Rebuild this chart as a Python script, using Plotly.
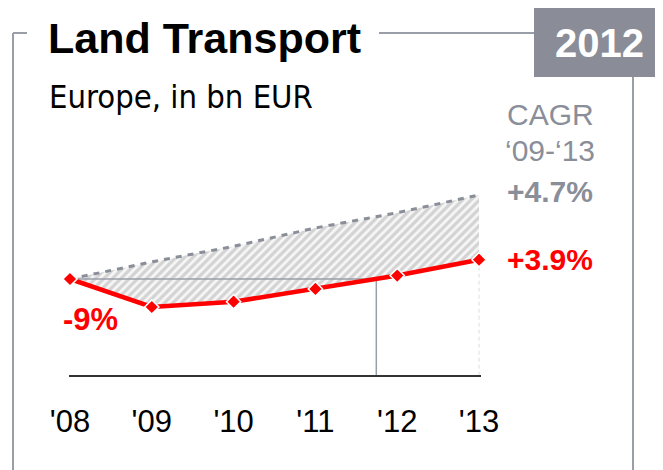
import plotly.graph_objects as go

# data (index, 2008 = 100)
years = ["'08", "'09", "'10", "'11", "'12", "'13"]
land_transport = [100, 91, 92.7, 96.8, 101.1, 106.2]
market_trend = [100, 105.5, 110.5, 116.4, 121.3, 127]

cagr_market = "+4.7%"
cagr_segment = "+3.9%"
drop_label = "-9%"
badge_year = "2012"

W, H = 663, 470
OFF = 8  # page body margin
RED = "#ff0000"
GREY = "#8a8e99"
FRAME = "#9a9ea8"
FONT = "Liberation Sans, Arial, sans-serif"
SUB_FONT = "DejaVu Sans Condensed, Liberation Sans, sans-serif"


def px(x):
    return (x - OFF) / W


def py(y):
    return 1 - (y - OFF) / H


xs = list(range(len(years)))

# where the segment gets back above the 2008 level
x_cross = None
for i in range(1, len(land_transport)):
    a, b = land_transport[i - 1], land_transport[i]
    if a < 100 <= b:
        x_cross = xs[i - 1] + (100 - a) / (b - a)
        break

# y scale: 2008 level at 279px, 3.111 px per point, baseline at 375px
y_base = 100 - (375 - 279) / 3.111
y_top = 100 + (279 - OFF) / 3.111

fig = go.Figure()

# lower edge of the hatched band
fig.add_trace(go.Scatter(x=xs, y=land_transport, mode="lines",
                         line=dict(width=0), hoverinfo="skip", cliponaxis=False))
# market trend, hatched down to the segment line
fig.add_trace(go.Scatter(
    x=xs, y=market_trend, mode="lines", fill="tonexty",
    fillpattern=dict(shape="/", fgcolor="#b0b0b0", bgcolor="#f7f7f7", size=6, solidity=0.55),
    line=dict(color=GREY, width=3, dash="6px,6px"), cliponaxis=False,
))

# recovery marker lines
fig.add_trace(go.Scatter(
    x=[xs[0], x_cross, x_cross], y=[100, 100, y_base], mode="lines",
    line=dict(color=FRAME, width=1.5), cliponaxis=False,
))
fig.add_trace(go.Scatter(
    x=[xs[-1], xs[-1]], y=[land_transport[-1], y_base], mode="lines",
    line=dict(color="#dddddd", width=1, dash="4px,3px"), cliponaxis=False,
))

fig.add_trace(go.Scatter(
    x=xs, y=land_transport, mode="lines+markers",
    line=dict(color=RED, width=4.5),
    marker=dict(symbol="diamond", size=11, color=RED, line=dict(color="white", width=1.5)),
    cliponaxis=False,
))

fig.update_layout(
    width=W, height=H,
    margin=dict(l=0, r=0, t=0, b=0, pad=0, autoexpand=False),
    paper_bgcolor="white", plot_bgcolor="white",
    showlegend=False,
    font=dict(family=FONT, color="black"),
    xaxis=dict(domain=[px(69), px(481)], range=[-0.012, 5.024], automargin=False,
               tickvals=xs, ticktext=years, ticks="", showgrid=False, zeroline=False,
               showline=True, linecolor="#333333", linewidth=2,
               tickfont=dict(size=31, family=FONT, color="black"),
               ticklabelstandoff=18),
    yaxis=dict(domain=[py(375), 1], range=[y_base, y_top], visible=False, automargin=False),
)

# frame
line = dict(color=FRAME, width=2)
fig.add_shape(type="line", xref="paper", yref="paper", x0=px(13), x1=px(13), y0=py(33), y1=py(480), line=line)
fig.add_shape(type="line", xref="paper", yref="paper", x0=px(13), x1=px(27), y0=py(33), y1=py(33), line=line)
fig.add_shape(type="line", xref="paper", yref="paper", x0=px(379), x1=px(534), y0=py(33), y1=py(33), line=line)
fig.add_shape(type="line", xref="paper", yref="paper", x0=px(633), x1=px(633), y0=py(77), y1=py(480), line=line)
fig.add_shape(type="rect", xref="paper", yref="paper", x0=px(534), x1=px(675), y0=py(6), y1=py(77),
              fillcolor="#8a8d97", line=dict(width=0))


def note(text, x, y, size, color="black", bold=False, anchor="center", family=FONT):
    fig.add_annotation(
        text=f"<b>{text}</b>" if bold else text,
        xref="paper", yref="paper", x=px(x), y=py(y),
        xanchor=anchor, yanchor="middle", showarrow=False,
        font=dict(size=size, color=color, family=family),
    )


note("Land Transport", 46, 38, 43, bold=True, anchor="left")
note("Europe, in bn EUR", 47, 97, 32.5, anchor="left", family=SUB_FONT)
note(badge_year, 599, 43, 40, color="white", bold=True)
note("CAGR", 550, 114, 30, color=GREY)
note("\u201809-\u201813", 550, 151, 30, color=GREY)
note(cagr_market, 550, 191, 30, color=GREY, bold=True)
note(cagr_segment, 550, 259, 30, color=RED, bold=True)
note(drop_label, 90, 319, 31, color=RED, bold=True)

fig.write_html("out.html")
